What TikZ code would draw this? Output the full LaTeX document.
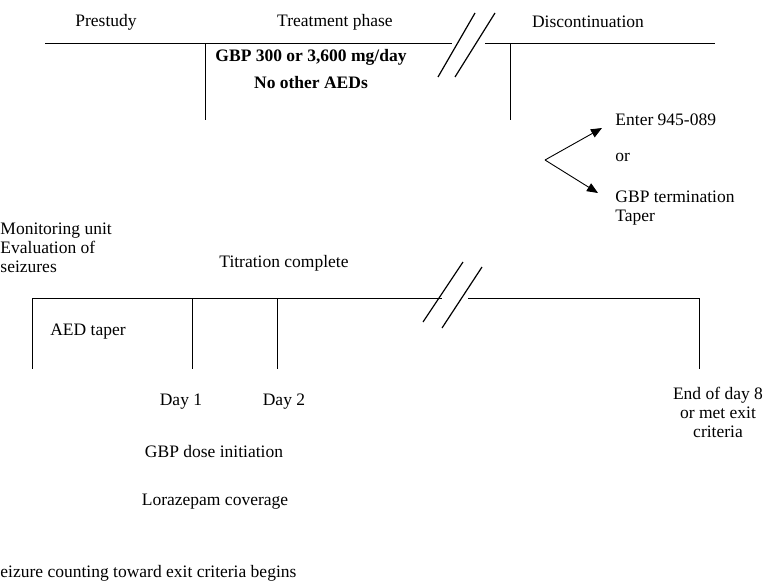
\documentclass[tikz,border=0pt]{standalone}
\usepackage{fontspec}
\setmainfont{Liberation Serif}
\usetikzlibrary{arrows.meta,positioning}
\tikzset{lbl/.style={inner sep=0pt, font=\fontsize{17.5}{19}\selectfont, align=center}}
\tikzset{lblb/.style={lbl, font=\fontsize{17.5}{27}\selectfont\bfseries}}
\tikzset{brk/.style={line width=1.2pt}}

\begin{document}
\begin{tikzpicture}[x=1pt, y=-1pt, line width=0.9pt]
\useasboundingbox (0,0) rectangle (765,584);
% top time line
\draw (45,43)--(452,43);
\draw (485,43)--(715,43);
\draw (205,43)--(205,120);
\draw (510,43)--(510,120);
\draw[brk] (438,77)--(475,13);
\draw[brk] (455,77)--(495,13);
\node[lbl] (pre) at (106,22) {Prestudy};
\node[lbl] (treat) at (335,22) {Treatment phase};
\node[lbl] (disc) at (588,22) {Discontinuation};
\node[lblb] (gbp) at (311,69) {GBP 300 or 3,600 mg/day\\No other AEDs};
% choice after discontinuation
\coordinate (fork) at (545,160);
\node[lbl, anchor=west] (enter) at (615,120) {Enter 945-089};
\node[lbl, anchor=west] (or) at (615,157) {or};
\node[lbl, anchor=north west, align=left] (term) at (615,190) {GBP termination\\Taper};
\draw[-{Triangle[length=11pt,width=9pt]}] (fork) -- (602,128);
\draw[-{Triangle[length=11pt,width=9pt]}] (fork) -- (598,193);
% bottom time line
\draw (32,298)--(442,298);
\draw (468,298)--(699,298);
\foreach \x in {32,192,277,699} {
  \draw (\x,298)--(\x,369);
}
\draw[brk] (423,322)--(463,262);
\draw[brk] (442,328)--(482,267);
\node[lbl, anchor=west, align=left] (mon) at (0,248) {Monitoring unit\\Evaluation of\\seizures};
\node[lbl] (titr) at (284,263) {Titration complete};
\node[lbl] (aed) at (88,332) {AED taper};
\node[lbl] (day1) at (181,402) {Day 1};
\node[lbl] (day2) at (284,402) {Day 2};
\node[lbl, anchor=north] (end) at (718,387) {End of day 8\\or met exit\\criteria};
\node[lbl] (dose) at (214,452) {GBP dose initiation};
\node[lbl] (lora) at (215,502) {Lorazepam coverage};
\node[lbl, anchor=west] (count) at (0,573) {eizure counting toward exit criteria begins};
\end{tikzpicture}
\end{document}
